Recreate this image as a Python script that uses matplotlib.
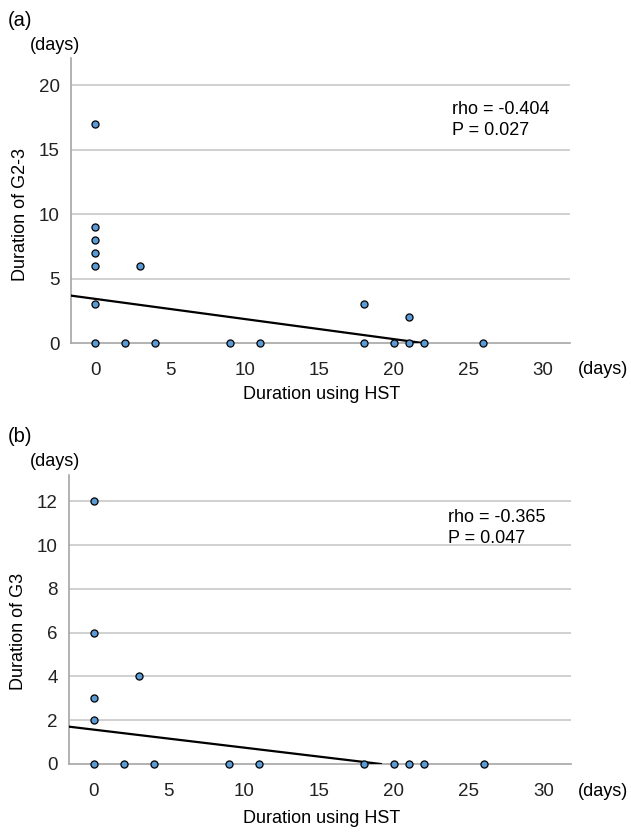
'''
HST duration vs. duration of G2-3 / G3 -- two stacked scatter panels.
'''
import numpy as np
import matplotlib
matplotlib.use('Agg')
import matplotlib.pyplot as plt

plt.rcParams['font.family'] = ['Liberation Sans', 'DejaVu Sans']

##############################################################################
# data

hst_a = [0, 0, 0, 0, 0, 0, 0, 3, 2, 4, 9, 11, 18, 18, 20, 21, 21, 22, 26]
g23_a = [17, 9, 8, 7, 6, 3, 0, 6, 0, 0, 0, 0, 3, 0, 0, 2, 0, 0, 0]
fit_a = (3.42, -0.156)     # intercept, slope
stat_a = ('-0.404', '0.027')

hst_b = [0, 0, 0, 0, 0, 3, 2, 4, 9, 11, 18, 20, 21, 22, 26]
g3_b  = [12, 6, 3, 2, 0, 4, 0, 0, 0, 0, 0, 0, 0, 0, 0]
fit_b = (1.57, -0.082)
stat_b = ('-0.365', '0.047')

xticks = [0, 5, 10, 15, 20, 25, 30]
yticks_a = [0, 5, 10, 15, 20]
yticks_b = [0, 2, 4, 6, 8, 10, 12]

##############################################################################

W, H = 631., 832.
gridColor = '#c8c8c8'
spineColor = '#a6a6a6'
dotColor = '#5b9bd5'
xlim = (-1.65, 31.8)


def pxBox(left, top, right, bottom):
    return [left/W, 1 - bottom/H, (right - left)/W, (bottom - top)/H]


def plotPanel(fig, box, x, y, fit, stat, yticks, ymax, ylabel, labY,
              statX, statY, xlabY):
    ax = fig.add_axes(pxBox(*box))
    ax.set_xlim(xlim)
    ax.set_ylim(0, ymax)
    for t in yticks[1:]:
        ax.axhline(t, color=gridColor, lw=1.2, zorder=1)
    for s in ['top', 'right']:
        ax.spines[s].set_visible(False)
    ax.spines['left'].set_color(spineColor)
    ax.spines['bottom'].set_color(spineColor)
    ax.spines['left'].set_linewidth(1.2)
    ax.spines['bottom'].set_linewidth(1.2)
    ax.set_xticks(xticks)
    ax.set_yticks(yticks)
    ax.tick_params(length=0, labelsize=13.5, colors='#222222')
    ax.tick_params(axis='x', pad=14)
    ax.tick_params(axis='y', pad=8)

    b0, b1 = fit
    xEnd = -b0 / b1
    xs = np.array([xlim[0], xEnd])
    ax.plot(xs, b0 + b1*xs, color='k', lw=1.6, zorder=3)

    ax.scatter(x, y, s=26, facecolor=dotColor, edgecolor='k',
               linewidth=0.9, zorder=4, clip_on=False)

    ax.set_ylabel(ylabel, fontsize=13)
    ax.yaxis.set_label_coords(-0.084, labY)
    ax.set_xlabel('Duration using HST', fontsize=13)
    ax.xaxis.set_label_coords(0.503, xlabY)
    ax.xaxis.label.set_va('center')

    ax.text(statX, statY, 'rho = {0}\nP = {1}'.format(*stat), fontsize=13,
            transform=ax.transAxes, ha='left', va='top', linespacing=1.3)
    return ax


fig = plt.figure(figsize=(W/100., H/100.), dpi=100)

axA = plotPanel(fig, (70.7, 58, 570, 343), hst_a, g23_a, fit_a, stat_a,
                yticks_a, 22.1, 'Duration of G2-3', 0.4525,
                0.763, 0.85, -0.182)

axB = plotPanel(fig, (69, 475, 570.5, 764), hst_b, g3_b, fit_b, stat_b,
                yticks_b, 13.2, 'Duration of G3', 0.46,
                0.756, 0.882, -0.187)

# panel letters and units
fig.text(8/W, 1 - 20/H, '(a)', fontsize=14.5, va='center', ha='left')
fig.text(55/W, 1 - 45/H, '(days)', fontsize=13, va='center', ha='center')
fig.text(578/W, 1 - 370/H, '(days)', fontsize=13, va='center', ha='left')

fig.text(8/W, 1 - 437/H, '(b)', fontsize=14.5, va='center', ha='left')
fig.text(55/W, 1 - 462/H, '(days)', fontsize=13, va='center', ha='center')
fig.text(578/W, 1 - 792/H, '(days)', fontsize=13, va='center', ha='left')

fig.savefig('out.png', dpi=100)
